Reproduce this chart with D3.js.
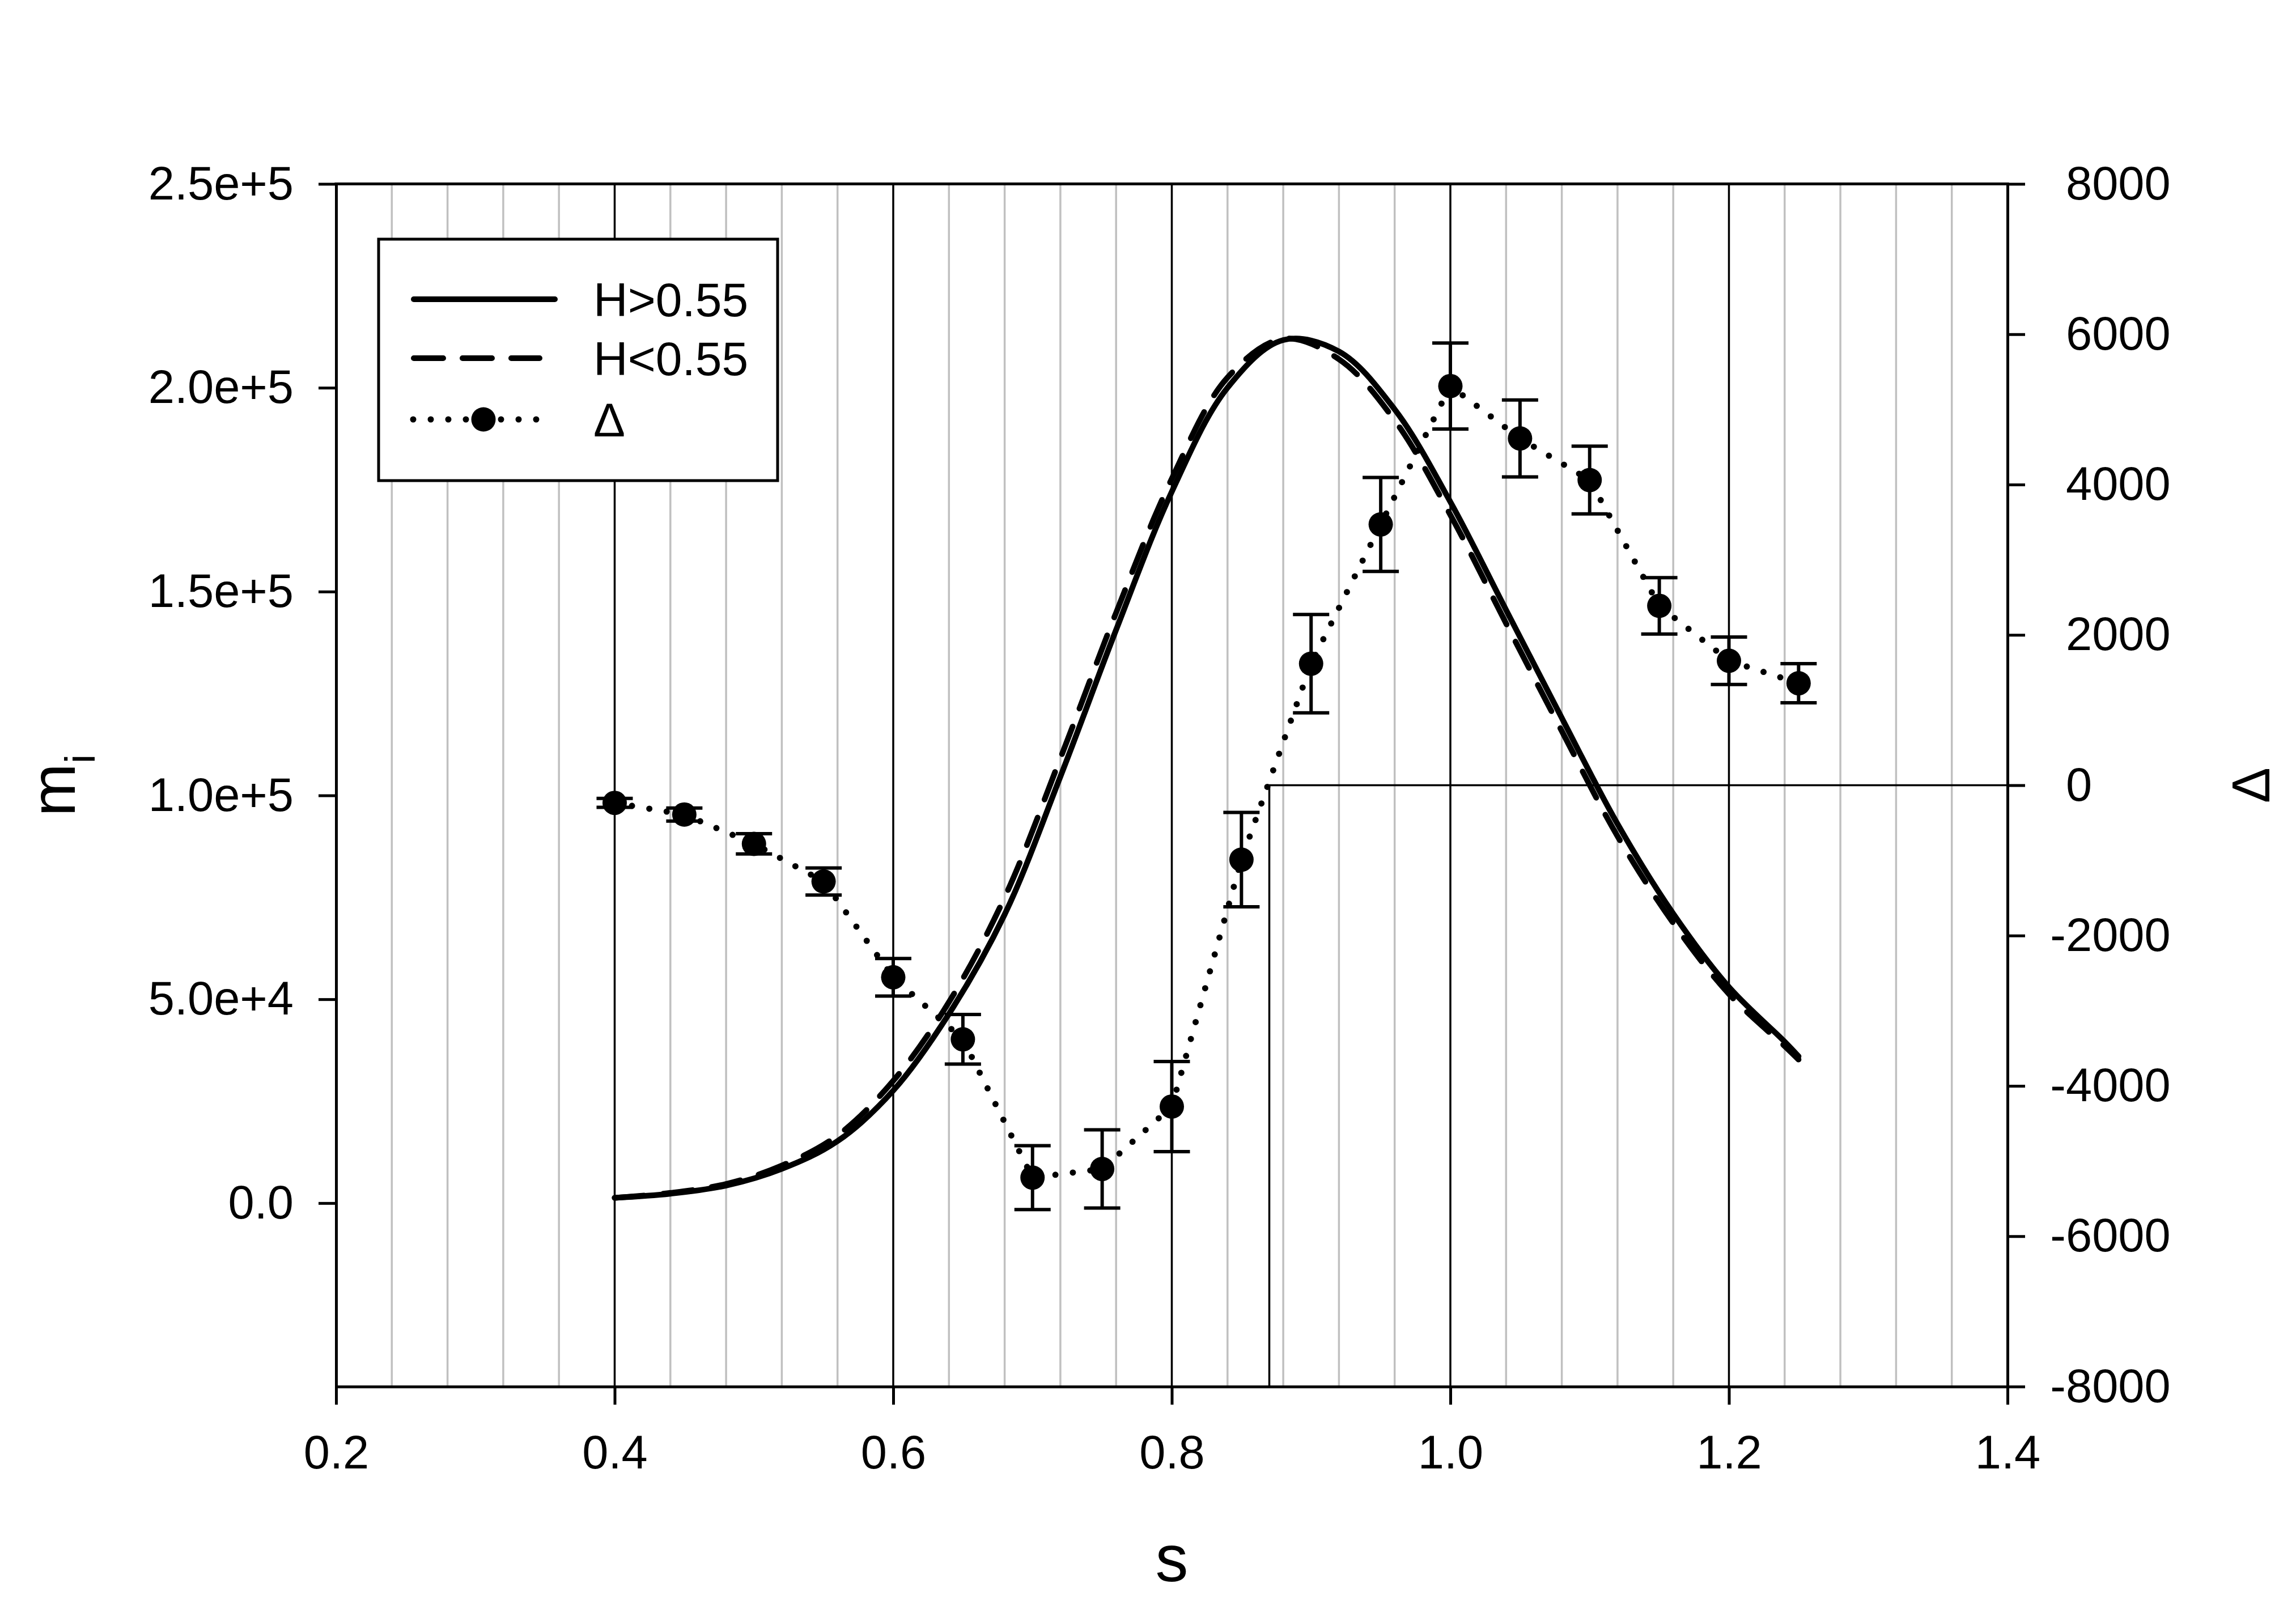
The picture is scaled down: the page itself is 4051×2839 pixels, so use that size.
<!DOCTYPE html>
<html>
<head>
<meta charset="utf-8">
<script src="https://cdn.jsdelivr.net/npm/d3@7"></script>
<style>
  html, body { margin: 0; padding: 0; background: #fff; }
  svg { display: block; font-family: "Liberation Sans", Arial, sans-serif; }
</style>
</head>
<body>
<svg id="chart" width="4051" height="2839"></svg>
<script>
// model curves
const curveS = [0.40, 0.44, 0.48, 0.52, 0.56, 0.60, 0.64, 0.68, 0.72, 0.76, 0.80, 0.84, 0.88, 0.92, 0.96, 1.00, 1.04, 1.08, 1.12, 1.16, 1.20, 1.24, 1.25];
const mHigh = [1300, 2300, 4300, 8400, 15200, 27600, 46400, 70800, 104600, 140600, 174500, 200000, 211700, 208900, 194700, 172000, 145500, 119000, 93000, 71000, 53000, 39600, 36000];
const mLow = [1300, 2500, 4700, 9200, 16600, 30000, 49300, 75000, 109100, 144800, 177700, 202500, 212000, 207000, 192000, 168800, 142200, 115800, 90000, 68700, 51300, 38500, 35200];

// delta points with error bars
const deltaS = [0.40, 0.45, 0.50, 0.55, 0.60, 0.65, 0.70, 0.75, 0.80, 0.85, 0.90, 0.95, 1.00, 1.05, 1.10, 1.15, 1.20, 1.25];
const deltaValues = [-235, -390, -780, -1280, -2555, -3380, -5220, -5105, -4275, -990, 1617, 3470, 5311, 4614, 4060, 2387, 1656, 1357];
const deltaErrors = [60, 86, 135, 180, 250, 330, 425, 520, 600, 628, 654, 625, 572, 512, 450, 375, 315, 260];

const xTicks = [0.2, 0.4, 0.6, 0.8, 1.0, 1.2, 1.4];
const xTickLabels = ["0.2", "0.4", "0.6", "0.8", "1.0", "1.2", "1.4"];
const leftTicks = [0, 50000, 100000, 150000, 200000, 250000];
const leftTickLabels = ["0.0", "5.0e+4", "1.0e+5", "1.5e+5", "2.0e+5", "2.5e+5"];
const rightTicks = [-8000, -6000, -4000, -2000, 0, 2000, 4000, 6000, 8000];
const majorGrid = [0.4, 0.6, 0.8, 1.0, 1.2];
const referenceS = 0.87;
const legendLabels = ["H>0.55", "H<0.55", "\u0394"];

const plotLeft = 593;
const plotRight = 3542;
const plotTop = 324.5;
const plotBottom = 2446.5;
const tickFont = 83;

const svg = d3.select("#chart");
svg.append("rect").attr("width", 4051).attr("height", 2839).attr("fill", "#fff");

const x = d3.scaleLinear().domain([0.2, 1.4]).range([plotLeft, plotRight]);
const yLeft = d3.scaleLinear().domain([-45000, 250000]).range([plotBottom, plotTop]);
const yRight = d3.scaleLinear().domain([-8000, 8000]).range([plotBottom, plotTop]);

// minor grid every 0.04, skipping the major lines
const minorGrid = d3.range(6, 35).filter((i) => i % 5 !== 0).map((i) => i * 0.04);

const grid = svg.append("g");
grid.selectAll("line.minor")
  .data(minorGrid)
  .join("line")
  .attr("class", "minor")
  .attr("x1", (d) => x(d))
  .attr("x2", (d) => x(d))
  .attr("y1", plotTop)
  .attr("y2", plotBottom)
  .attr("stroke", "#c0c0c0")
  .attr("stroke-width", 3.5);
grid.selectAll("line.major")
  .data(majorGrid)
  .join("line")
  .attr("class", "major")
  .attr("x1", (d) => x(d))
  .attr("x2", (d) => x(d))
  .attr("y1", plotTop)
  .attr("y2", plotBottom)
  .attr("stroke", "#000")
  .attr("stroke-width", 3.5);

// zero reference line on the right axis
svg.append("path")
  .attr("d", `M${x(referenceS)},${yRight(-8000)}V${yRight(0)}H${x(1.4)}`)
  .attr("fill", "none")
  .attr("stroke", "#000")
  .attr("stroke-width", 3.5);

const curveLine = (values) => d3.line()
  .x((d, i) => x(curveS[i]))
  .y((d) => yLeft(d))
  .curve(d3.curveCatmullRom.alpha(0.5))(values);

svg.append("path")
  .attr("d", curveLine(mHigh))
  .attr("fill", "none")
  .attr("stroke", "#000")
  .attr("stroke-width", 10)
  .attr("stroke-linecap", "round");
svg.append("path")
  .attr("d", curveLine(mLow))
  .attr("fill", "none")
  .attr("stroke", "#000")
  .attr("stroke-width", 10)
  .attr("stroke-linecap", "round")
  .attr("stroke-dasharray", "52,34");

const deltaLine = d3.line()
  .x((d, i) => x(deltaS[i]))
  .y((d) => yRight(d));

svg.append("path")
  .attr("d", deltaLine(deltaValues))
  .attr("fill", "none")
  .attr("stroke", "#000")
  .attr("stroke-width", 11)
  .attr("stroke-linecap", "round")
  .attr("stroke-dasharray", "0,31");

const bars = svg.append("g")
  .selectAll("g")
  .data(deltaValues)
  .join("g")
  .attr("stroke", "#000")
  .attr("stroke-width", 6);
bars.append("line")
  .attr("x1", (d, i) => x(deltaS[i]))
  .attr("x2", (d, i) => x(deltaS[i]))
  .attr("y1", (d, i) => yRight(d - deltaErrors[i]))
  .attr("y2", (d, i) => yRight(d + deltaErrors[i]));
bars.append("line")
  .attr("x1", (d, i) => x(deltaS[i]) - 32)
  .attr("x2", (d, i) => x(deltaS[i]) + 32)
  .attr("y1", (d, i) => yRight(d + deltaErrors[i]))
  .attr("y2", (d, i) => yRight(d + deltaErrors[i]));
bars.append("line")
  .attr("x1", (d, i) => x(deltaS[i]) - 32)
  .attr("x2", (d, i) => x(deltaS[i]) + 32)
  .attr("y1", (d, i) => yRight(d - deltaErrors[i]))
  .attr("y2", (d, i) => yRight(d - deltaErrors[i]));

svg.append("g")
  .selectAll("circle")
  .data(deltaValues)
  .join("circle")
  .attr("cx", (d, i) => x(deltaS[i]))
  .attr("cy", (d) => yRight(d))
  .attr("r", 21.5)
  .attr("fill", "#000");

// axes
function styleAxis(g) {
  g.attr("font-size", tickFont).attr("font-family", null);
  g.select(".domain").attr("stroke-width", 5).attr("stroke-linecap", "square");
  g.selectAll(".tick line").attr("stroke-width", 5);
  g.selectAll(".tick text").attr("fill", "#000");
}

svg.append("g")
  .attr("transform", `translate(0,${plotBottom})`)
  .call(d3.axisBottom(x).tickValues(xTicks).tickFormat((d, i) => xTickLabels[i]).tickSize(32).tickSizeOuter(0).tickPadding(54))
  .call(styleAxis);

svg.append("g")
  .attr("transform", `translate(${plotLeft},0)`)
  .call(d3.axisLeft(yLeft).tickValues(leftTicks).tickFormat((d, i) => leftTickLabels[i]).tickSize(31).tickSizeOuter(0).tickPadding(44))
  .call(styleAxis);

const rightAxis = svg.append("g")
  .attr("transform", `translate(${plotRight},0)`)
  .call(d3.axisRight(yRight).tickValues(rightTicks).tickFormat(d3.format("d")).tickSize(31).tickSizeOuter(0).tickPadding(72))
  .call(styleAxis);
// digits line up, the minus sign hangs out to the left
rightAxis.selectAll(".tick text")
  .attr("x", (d) => d < 0 ? 103 - tickFont * 0.333 : 103)
  .text((d) => d < 0 ? "-" + Math.abs(d) : String(d));

svg.append("line")
  .attr("x1", plotLeft)
  .attr("x2", plotRight)
  .attr("y1", plotTop)
  .attr("y2", plotTop)
  .attr("stroke", "#000")
  .attr("stroke-width", 5)
  .attr("stroke-linecap", "square");

// axis titles
svg.append("text")
  .attr("x", (plotLeft + plotRight) / 2)
  .attr("y", 2790)
  .attr("text-anchor", "middle")
  .attr("font-size", 116)
  .text("s");

const leftTitle = svg.append("text")
  .attr("transform", `translate(132,${(plotTop + plotBottom) / 2}) rotate(-90)`)
  .attr("text-anchor", "middle")
  .attr("font-size", 112);
leftTitle.append("tspan").text("m");
leftTitle.append("tspan").attr("font-size", 75).attr("dy", 35).text("i");

svg.append("text")
  .attr("transform", `translate(4004,${(plotTop + plotBottom) / 2}) rotate(-90)`)
  .attr("text-anchor", "middle")
  .attr("font-size", 94)
  .text("\u0394");

// legend
const legend = svg.append("g");
legend.append("rect")
  .attr("x", 668)
  .attr("y", 422)
  .attr("width", 704)
  .attr("height", 426)
  .attr("fill", "#fff")
  .attr("stroke", "#000")
  .attr("stroke-width", 5);

const legendRows = [528, 632, 740];
legend.append("line")
  .attr("x1", 730).attr("x2", 979)
  .attr("y1", legendRows[0]).attr("y2", legendRows[0])
  .attr("stroke", "#000").attr("stroke-width", 10).attr("stroke-linecap", "round");
legend.append("line")
  .attr("x1", 730).attr("x2", 952)
  .attr("y1", legendRows[1]).attr("y2", legendRows[1])
  .attr("stroke", "#000").attr("stroke-width", 10).attr("stroke-linecap", "round")
  .attr("stroke-dasharray", "52,34");
legend.append("line")
  .attr("x1", 729).attr("x2", 977)
  .attr("y1", legendRows[2]).attr("y2", legendRows[2])
  .attr("stroke", "#000").attr("stroke-width", 11).attr("stroke-linecap", "round")
  .attr("stroke-dasharray", "0,31");
legend.append("circle")
  .attr("cx", 853).attr("cy", legendRows[2]).attr("r", 21.5).attr("fill", "#000");

legend.selectAll("text")
  .data(legendLabels)
  .join("text")
  .attr("x", 1047)
  .attr("y", (d, i) => legendRows[i] + 30)
  .attr("font-size", 84)
  .text((d) => d);
</script>
</body>
</html>
